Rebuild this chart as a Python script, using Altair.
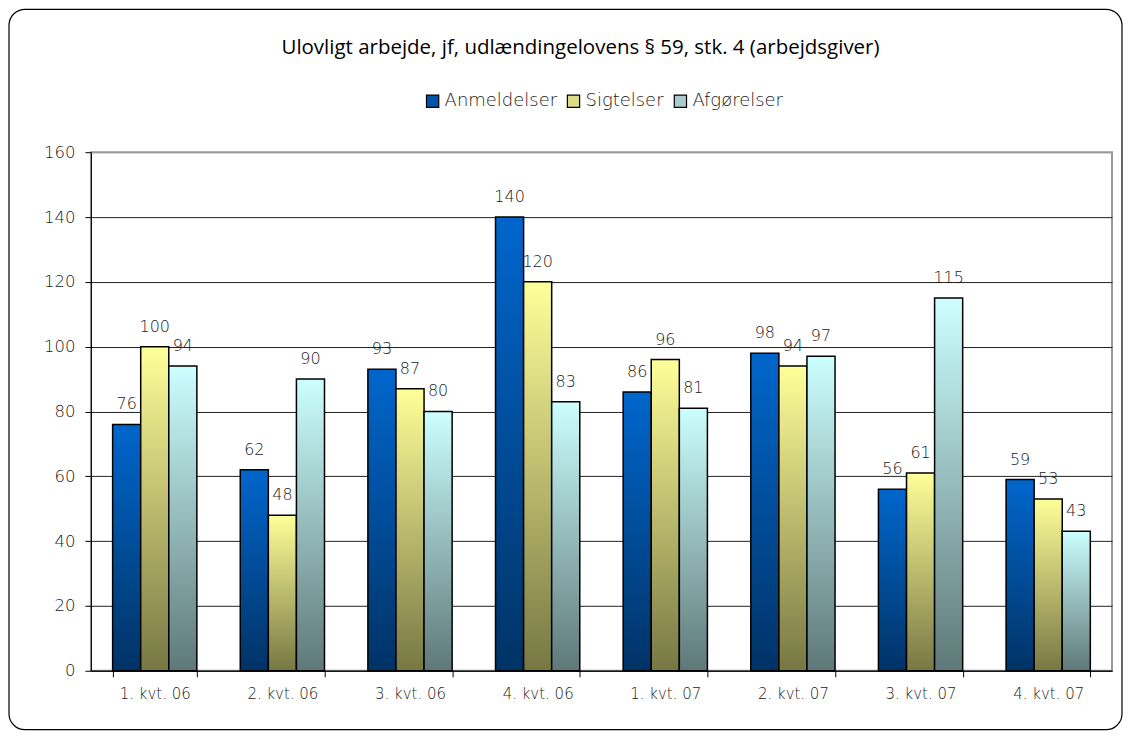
import altair as alt
import pandas as pd

categories = ["1. kvt. 06", "2. kvt. 06", "3. kvt. 06", "4. kvt. 06",
              "1. kvt. 07", "2. kvt. 07", "3. kvt. 07", "4. kvt. 07"]
series = ["Anmeldelser", "Sigtelser", "Afgørelser"]
anmeldelser = [76, 62, 93, 140, 86, 98, 56, 59]
sigtelser = [100, 48, 87, 120, 96, 94, 61, 53]
afgoerelser = [94, 90, 80, 83, 81, 97, 115, 43]
y_ticks = [0, 20, 40, 60, 80, 100, 120, 140, 160]

title_text = "Ulovligt arbejde, jf, udlændingelovens § 59, stk. 4 (arbejdsgiver)"

flat_colors = ["#0055AA", "#DDDD88", "#AACCCC"]
grad_stops = [
    ("#0066CC", "#003366"),
    ("#FFFF99", "#777744"),
    ("#CCFFFF", "#5F7878"),
]

rows = []
for s, vals in zip(series, [anmeldelser, sigtelser, afgoerelser]):
    for c, v in zip(categories, vals):
        rows.append({"kvartal": c, "serie": s, "value": v})
df = pd.DataFrame(rows)

FONT = "DejaVu Sans"
TFONT = "Open Sans"
TXT = "#1a1a1a"
W, H = 1022, 519

x_enc = alt.X("kvartal:N", sort=categories,
              scale=alt.Scale(paddingInner=0.34, paddingOuter=0.17),
              axis=alt.Axis(title=None, labelAngle=0, tickBand="extent",
                            tickSize=6, tickColor="black", domainColor="black",
                            labelFontSize=15, labelColor=TXT, labelFont=FONT,
                            labelFontWeight=200, labelPadding=10, grid=False))
xo_enc = alt.XOffset("serie:N", sort=series, scale=alt.Scale(domain=series))
y_enc = alt.Y("value:Q", scale=alt.Scale(domain=[0, 160], nice=False),
              axis=alt.Axis(title=None, values=y_ticks, tickSize=6,
                            tickColor="black", domainColor="black",
                            labelFontSize=16.5, labelColor=TXT, labelFont=FONT,
                            labelFontWeight=200, labelPadding=10,
                            gridColor={"expr": "datum.value == 160 ? '#999999' : '#222222'"},
                            gridWidth=1))

base = alt.Chart(df)

legend_layer = base.mark_bar().encode(
    x=x_enc, xOffset=xo_enc, y=y_enc,
    color=alt.Color("serie:N", sort=series,
                    scale=alt.Scale(domain=series, range=flat_colors),
                    legend=alt.Legend(title=None, orient="none", direction="horizontal",
                                      legendX=333, legendY=-60,
                                      symbolType="square", symbolSize=150,
                                      symbolStrokeColor="black", symbolStrokeWidth=1.2,
                                      labelFont=FONT, labelFontSize=18,
                                      labelFontWeight=200, labelColor=TXT,
                                      labelOffset=3, columnPadding=7)),
)

grad_layers = []
for s, (top, bottom) in zip(series, grad_stops):
    grad_layers.append(
        base.transform_filter(alt.datum.serie == s).mark_bar(
            stroke="black", strokeWidth=1.5,
            color=alt.Gradient(gradient="linear", x1=0, y1=0, x2=0, y2=1,
                               stops=[alt.GradientStop(color=top, offset=0),
                                      alt.GradientStop(color=bottom, offset=1)]),
        ).encode(x=x_enc, xOffset=xo_enc, y=y_enc)
    )

labels = base.mark_text(dy=-20, fontSize=16, color=TXT, font=FONT,
                        fontWeight=200).encode(
    x=x_enc, xOffset=xo_enc, y=y_enc, text="value:Q")

frame = alt.Chart(pd.DataFrame({"a": [0]})).mark_rect(
    cornerRadius=16, fillOpacity=0, stroke="black", strokeWidth=1.2
).encode(x=alt.value(-82), x2=alt.value(1032), y=alt.value(-143), y2=alt.value(578))

chart = alt.layer(legend_layer, *grad_layers, labels, frame).properties(
    width=W, height=H, padding=0,
    title=alt.TitleParams(title_text, font=TFONT, fontSize=20.5, fontWeight="normal",
                          color="black", anchor="middle", frame="group", dx=-21,
                          offset=-50),
).configure_view(stroke="#999999", strokeWidth=2)

chart.save("out.html", embed_options={"renderer": "svg", "actions": False})
